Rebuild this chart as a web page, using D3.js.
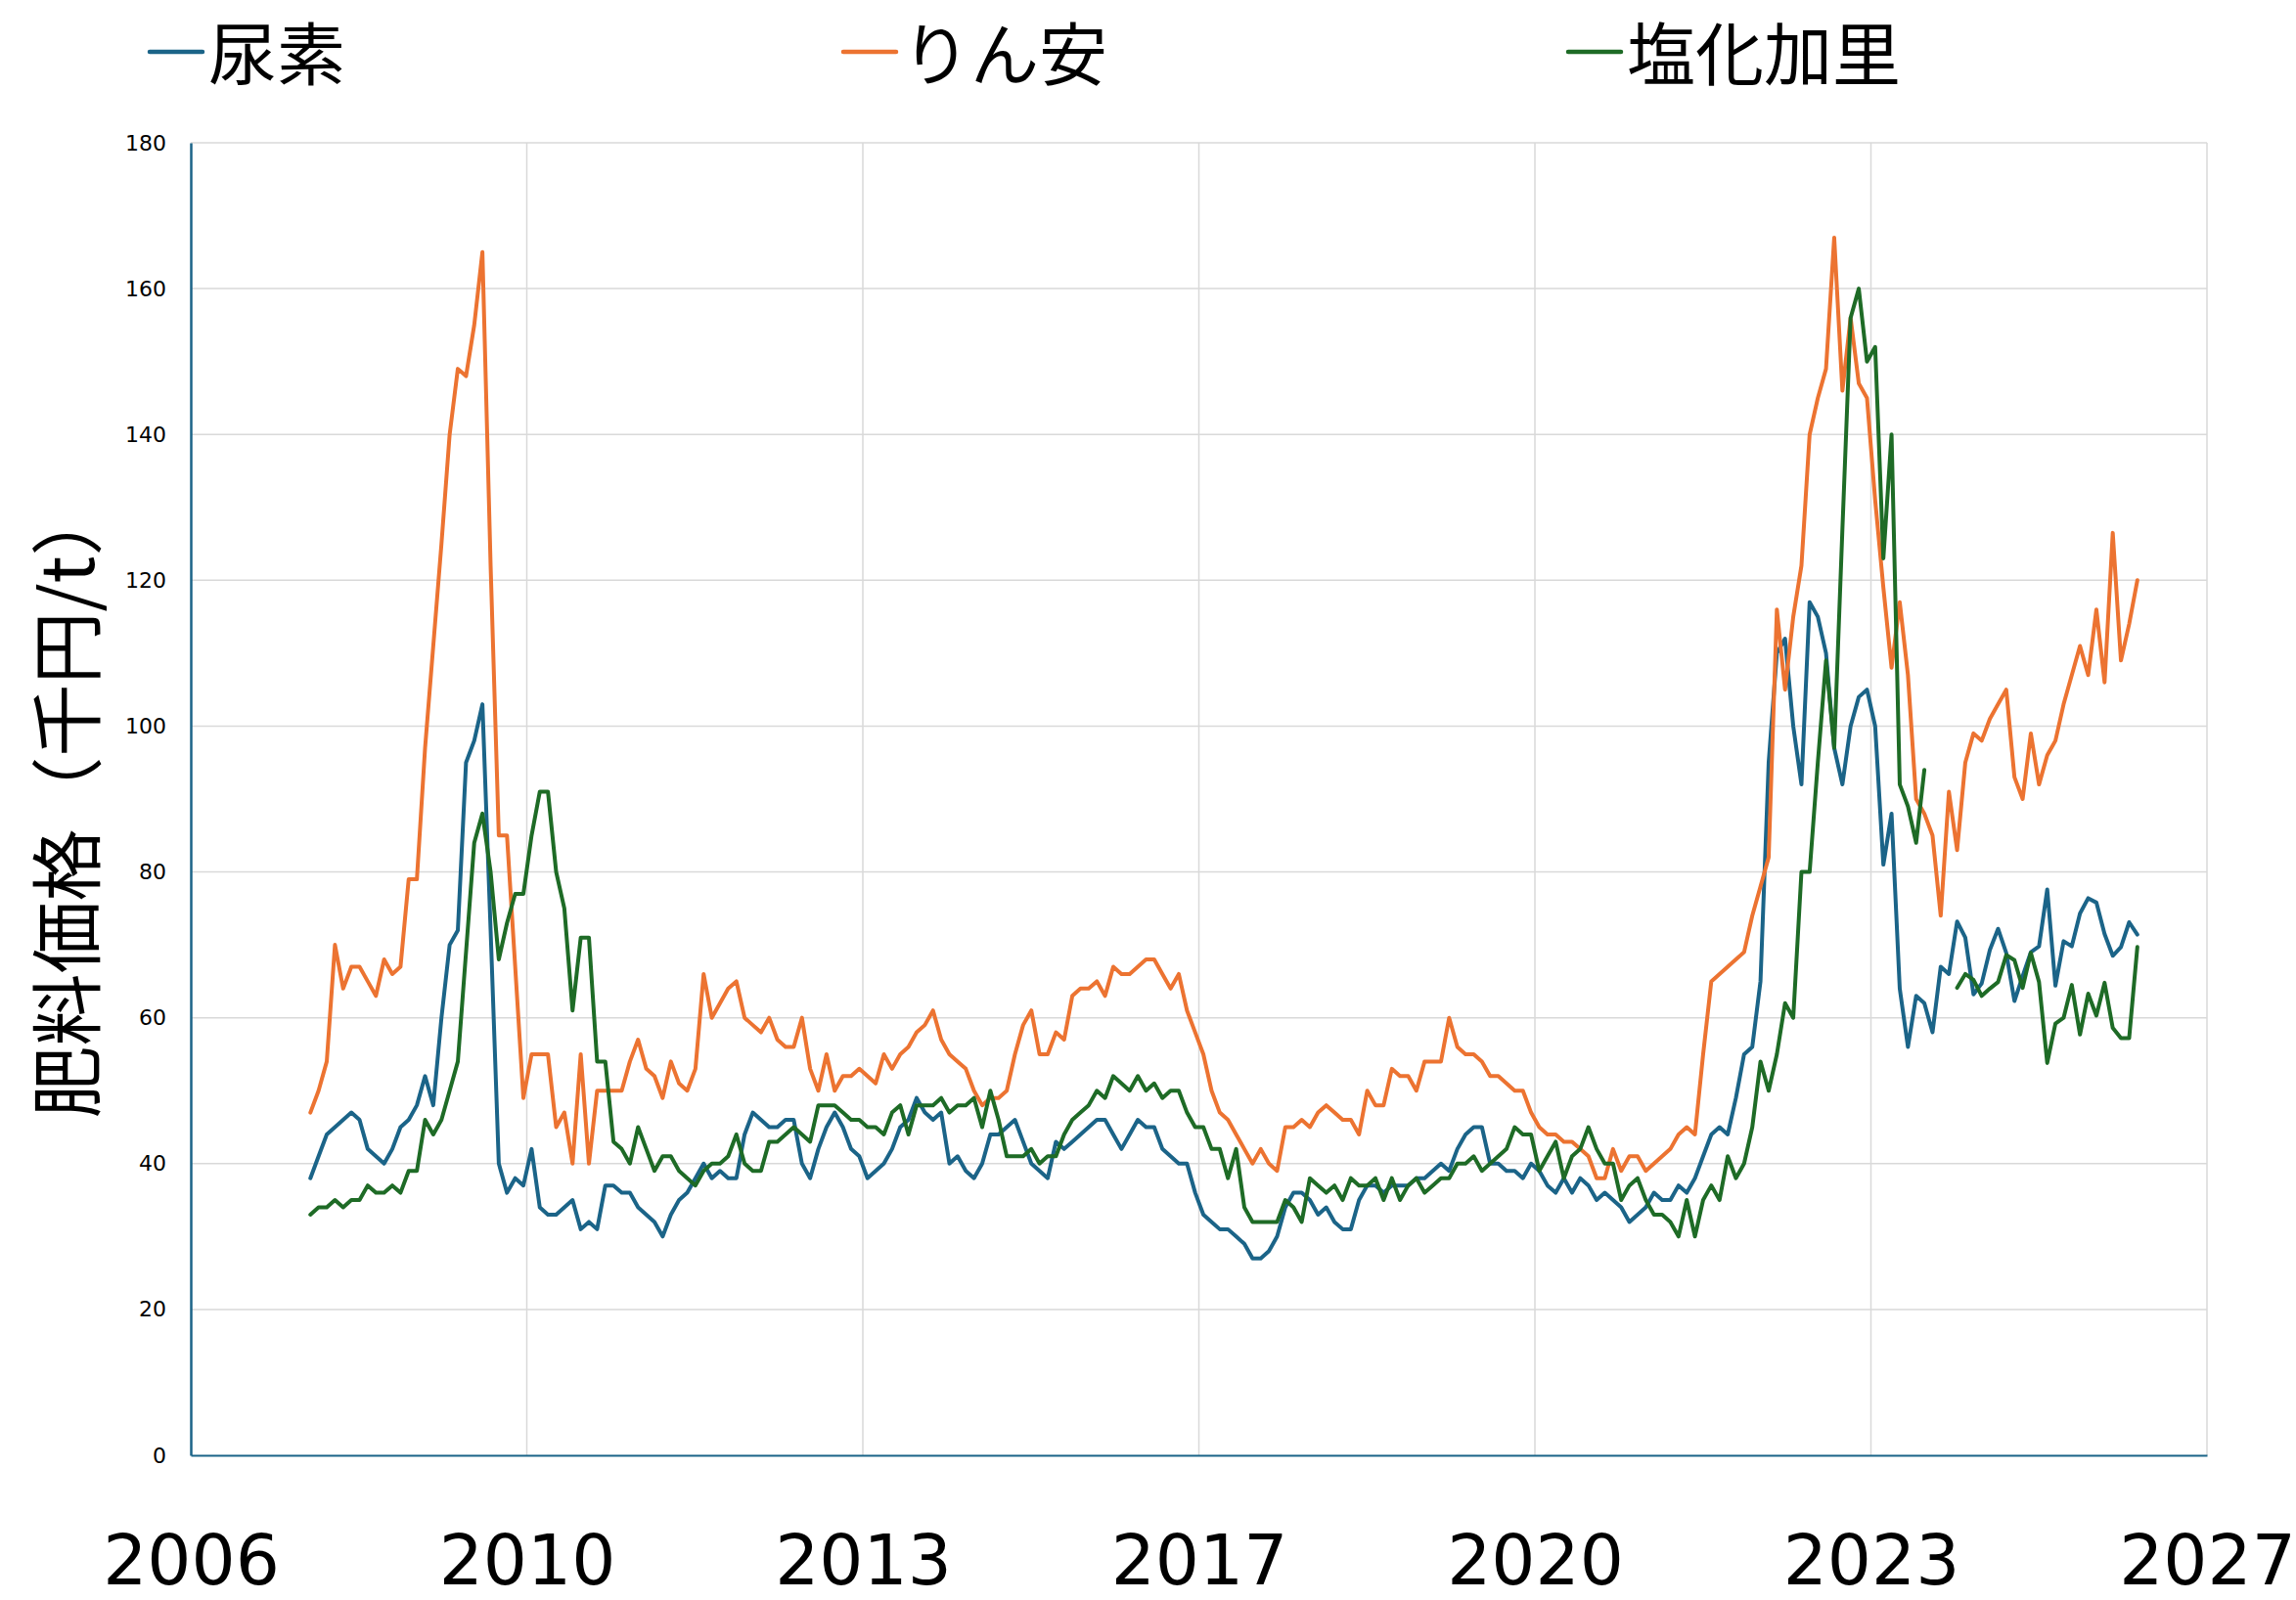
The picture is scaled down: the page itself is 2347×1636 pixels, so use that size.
<!DOCTYPE html>
<html>
<head>
<meta charset="utf-8">
<script src="https://cdn.jsdelivr.net/npm/d3@7"></script>
<style>
    body { margin: 0; background: #fff; }
    .gridLines line { stroke: #d9d9d9; stroke-width: 1.5; }
    .tickLabel { font-family: "DejaVu Sans", Verdana, sans-serif; fill: #000; }
    .jp { font-family: "Noto Sans CJK JP", sans-serif; fill: #000; }
</style>
</head>
<body>
<script>
(function(){

//series names (legend order)
var seriesNames = ["尿素", "りん安", "塩化加里"];
var seriesColors = ["#1b6488", "#ec7331", "#1e6b26"];

//monthly prices, thousand yen per tonne (one value per month, null = no data)
var ureaValues = [
    38,41,44,45,46,47,46,42,41,40,42,45,46,48,52,48,60,70,72,95,98,103,72,40,36,38,37,42,34,33,
    33,34,35,31,32,31,37,37,36,36,34,33,32,30,33,35,36,38,40,38,39,38,38,44,47,46,45,45,46,46,
    40,38,42,45,47,45,42,41,38,39,40,42,45,46,49,47,46,47,40,41,39,38,40,44,44,45,46,43,40,39,
    38,43,42,43,44,45,46,46,44,42,44,46,45,45,42,41,40,40,36,33,32,31,31,30,29,27,27,28,30,34,
    36,36,35,33,34,32,31,31,35,37,37,36,37,37,37,38,38,39,40,39,42,44,45,45,40,40,39,39,38,40,
    39,37,36,38,36,38,37,35,36,35,34,32,33,34,36,35,35,37,36,38,41,44,45,44,49,55,56,65,95,110,
    112,100,92,117,115,110,97,92,100,104,105,100,81,88,64,56,63,62,58,67,66,73.2,71,63.2,64.7,69.3,72.2,68.9,62.3,65.7,
    69,69.8,77.6,64.4,70.5,69.8,74.3,76.4,75.8,71.5,68.5,69.7,73.1,71.4
];
var dapValues = [
    47,50,54,70,64,67,67,65,63,68,66,67,79,79,97,111,125,140,149,148,155,165,122,85,85,67,49,55,55,55,
    45,47,40,55,40,50,50,50,50,54,57,53,52,49,54,51,50,53,66,60,62,64,65,60,59,58,60,57,56,56,
    60,53,50,55,50,52,52,53,52,51,55,53,55,56,58,59,61,57,55,54,53,50,48,49,49,50,55,59,61,55,
    55,58,57,63,64,64,65,63,67,66,66,67,68,68,66,64,66,61,58,55,50,47,46,44,42,40,42,40,39,45,
    45,46,45,47,48,47,46,46,44,50,48,48,53,52,52,50,54,54,54,60,56,55,55,54,52,52,51,50,50,47,
    45,44,44,43,43,42,41,38,38,42,39,41,41,39,40,41,42,44,45,44,55,65,66,67,68,69,74,78,82,116,
    105,115,122,140,145,149,167,146,156,147,145,131,119,108,117,107,90,88,85,74,91,83,95,99,98,101,103,105,93,90,
    99,92,96,98,103,107,111,107,116,106,126.5,109,114,120
];
var potashValues = [
    33,34,34,35,34,35,35,37,36,36,37,36,39,39,46,44,46,50,54,69,84,88,80,68,73,77,77,85,91,91,
    80,75,61,71,71,54,54,43,42,40,45,42,39,41,41,39,38,37,39,40,40,41,44,40,39,39,43,43,44,45,
    44,43,48,48,48,47,46,46,45,45,44,47,48,44,48,48,48,49,47,48,48,49,45,50,46,41,41,41,42,40,
    41,41,44,46,47,48,50,49,52,51,50,52,50,51,49,50,50,47,45,45,42,42,38,42,34,32,32,32,32,35,
    34,32,38,37,36,37,35,38,37,37,38,35,38,35,37,38,36,37,38,38,40,40,41,39,40,41,42,45,44,44,
    39,41,43,38,41,42,45,42,40,40,35,37,38,35,33,33,32,30,35,30,35,37,35,41,38,40,45,54,50,55,
    62,60,80,80,95,109,97,127,156,160,150,152,123,140,92,89,84,94,null,null,null,64.1,66,65.2,63,64,64.9,68.6,67.9,64.1,
    68.9,64.9,53.8,59.2,60,64.5,57.7,63.3,60.3,64.8,58.6,57.2,57.2,69.7
];

//axis labels
var xTickLabels = ["2006", "2010", "2013", "2017", "2020", "2023", "2027"];
var yTickValues = [0, 20, 40, 60, 80, 100, 120, 140, 160, 180];
var yTitle = "肥料価格（千円/t）";

window.onload = setChart();

function setChart(){
    //frame dimensions
    var width = 2347,
        height = 1636,
        plotLeft = 195,
        plotRight = 2256,
        plotTop = 146,
        plotBottom = 1488;

    var svg = d3.select("body")
        .append("svg")
        .attr("width", width)
        .attr("height", height);

    //x runs on month index, first month = 0
    var xScale = d3.scaleLinear()
        .domain([-14.6, 231.5])
        .range([plotLeft, plotRight]);

    var yScale = d3.scaleLinear()
        .domain([0, 180])
        .range([plotBottom, plotTop]);

    var xDomain = xScale.domain();
    var xTickValues = xTickLabels.map(function(d, i){
        return xDomain[0] + i * (xDomain[1] - xDomain[0]) / (xTickLabels.length - 1);
    });

    //horizontal gridlines
    svg.append("g")
        .attr("class", "gridLines")
        .selectAll("line")
        .data(yTickValues.slice(1))
        .enter()
        .append("line")
        .attr("x1", plotLeft)
        .attr("x2", plotRight)
        .attr("y1", function(d){ return yScale(d); })
        .attr("y2", function(d){ return yScale(d); });

    //vertical gridlines
    svg.append("g")
        .attr("class", "gridLines")
        .selectAll("line")
        .data(xTickValues.slice(1))
        .enter()
        .append("line")
        .attr("x1", function(d){ return xScale(d); })
        .attr("x2", function(d){ return xScale(d); })
        .attr("y1", plotTop)
        .attr("y2", plotBottom);

    //y axis
    var yAxis = d3.axisLeft(yScale)
        .tickValues(yTickValues)
        .tickSize(0)
        .tickPadding(25);

    var yAxisG = svg.append("g")
        .attr("transform", "translate(" + plotLeft + ",0)")
        .call(yAxis);
    yAxisG.select(".domain")
        .attr("stroke", "#1b6488")
        .attr("stroke-width", 2.5);
    yAxisG.selectAll("text")
        .attr("class", "tickLabel")
        .style("font-size", "22px");

    //x axis
    var xAxis = d3.axisBottom(xScale)
        .tickValues(xTickValues)
        .tickFormat(function(d, i){ return xTickLabels[i]; })
        .tickSize(0)
        .tickPadding(82);

    var xAxisG = svg.append("g")
        .attr("transform", "translate(0," + plotBottom + ")")
        .call(xAxis);
    xAxisG.select(".domain")
        .attr("stroke", "#1b6488")
        .attr("stroke-width", 2);
    xAxisG.selectAll("text")
        .attr("class", "tickLabel")
        .style("font-size", "71px");

    //series lines
    var allSeries = [ureaValues, dapValues, potashValues];

    var line = d3.line()
        .defined(function(d){ return d != null; })
        .x(function(d, i){ return xScale(i); })
        .y(function(d){ return yScale(d); });

    svg.append("g")
        .selectAll("path")
        .data(allSeries)
        .enter()
        .append("path")
        .attr("d", line)
        .attr("fill", "none")
        .attr("stroke", function(d, i){ return seriesColors[i]; })
        .attr("stroke-width", 4)
        .attr("stroke-linejoin", "round")
        .attr("stroke-linecap", "round");

    //y axis title
    svg.append("text")
        .attr("class", "jp")
        .attr("transform", "translate(63,819) rotate(-90)")
        .attr("text-anchor", "middle")
        .attr("dominant-baseline", "central")
        .style("font-size", "74px")
        .text(yTitle);

    //legend
    var legendX = [153, 862, 1603];
    var legend = svg.selectAll(".legendItem")
        .data(seriesNames)
        .enter()
        .append("g")
        .attr("class", "legendItem")
        .attr("transform", function(d, i){
            return "translate(" + legendX[i] + ",53)";
        });

    legend.append("line")
        .attr("x1", 0)
        .attr("x2", 54)
        .attr("stroke", function(d, i){ return seriesColors[i]; })
        .attr("stroke-width", 4.5)
        .attr("stroke-linecap", "round");

    legend.append("text")
        .attr("class", "jp")
        .attr("x", 60)
        .attr("y", 29)
        .style("font-size", "70px")
        .text(function(d){ return d; });
};

})();
</script>
</body>
</html>
